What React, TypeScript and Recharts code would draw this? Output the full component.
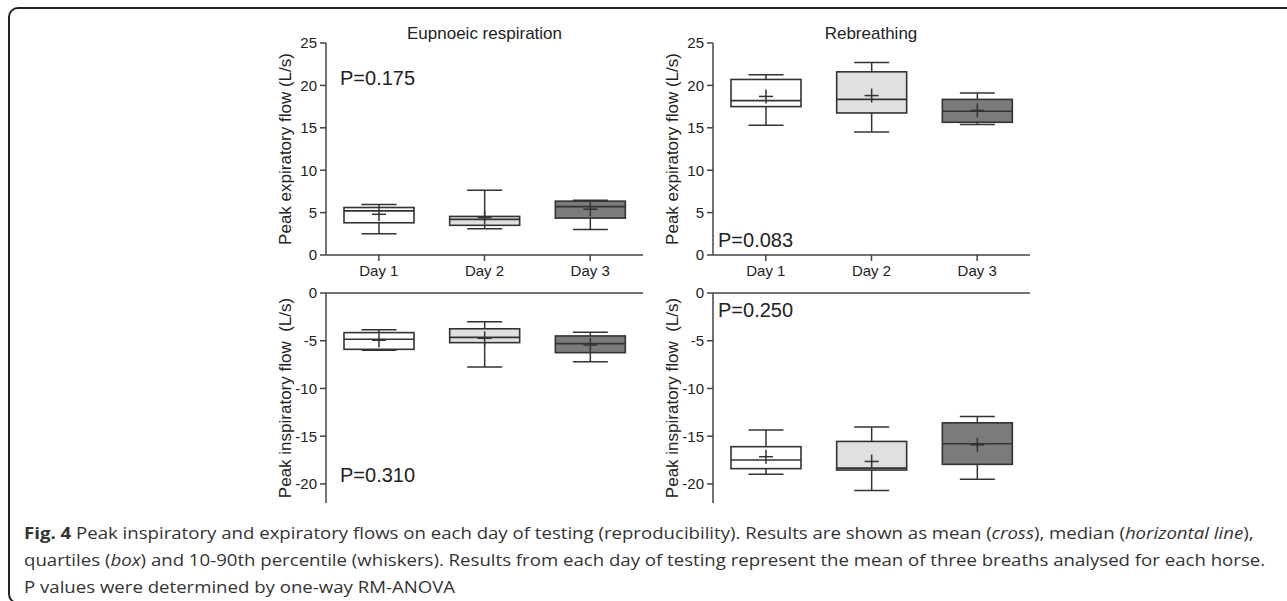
import { ComposedChart, Bar, XAxis, YAxis } from "recharts";

const days = ["Day 1", "Day 2", "Day 3"];
const boxFills = ["#ffffff", "#e0e0e0", "#7b7b7b"];

// Eupnoeic respiration, peak expiratory flow (L/s)
const eupExpP10 = [2.5, 3.1, 3.0];
const eupExpQ1 = [3.8, 3.5, 4.35];
const eupExpMedian = [5.2, 4.2, 5.7];
const eupExpQ3 = [5.6, 4.55, 6.35];
const eupExpP90 = [5.95, 7.65, 6.45];
const eupExpMean = [4.8, 4.4, 5.4];

// Rebreathing, peak expiratory flow (L/s)
const rebExpP10 = [15.3, 14.5, 15.4];
const rebExpQ1 = [17.5, 16.75, 15.65];
const rebExpMedian = [18.2, 18.35, 16.95];
const rebExpQ3 = [20.7, 21.6, 18.35];
const rebExpP90 = [21.25, 22.7, 19.1];
const rebExpMean = [18.7, 18.8, 17.05];

// Eupnoeic respiration, peak inspiratory flow (L/s)
const eupInspP10 = [-6.0, -7.75, -7.2];
const eupInspQ1 = [-5.9, -5.2, -6.25];
const eupInspMedian = [-4.85, -4.65, -5.3];
const eupInspQ3 = [-4.15, -3.75, -4.5];
const eupInspP90 = [-3.85, -3.0, -4.1];
const eupInspMean = [-4.95, -4.75, -5.45];

// Rebreathing, peak inspiratory flow (L/s)
const rebInspP10 = [-19.0, -20.7, -19.5];
const rebInspQ1 = [-18.4, -18.55, -17.95];
const rebInspMedian = [-17.5, -18.35, -15.8];
const rebInspQ3 = [-16.1, -15.55, -13.6];
const rebInspP90 = [-14.35, -14.05, -12.95];
const rebInspMean = [-17.15, -17.65, -15.9];

const expTicks = [0, 5, 10, 15, 20, 25];
const inspTicks = [-20, -15, -10, -5, 0];

const AXIS = "#444";
const INK = "#333";
const TEXT = "#222";

function rows(p10: number[], q1: number[], med: number[], q3: number[], p90: number[], mean: number[]) {
  return days.map((day, i) => ({
    day,
    box: [q1[i], q3[i]],
    p10: p10[i],
    q1: q1[i],
    med: med[i],
    q3: q3[i],
    p90: p90[i],
    mean: mean[i],
    fill: boxFills[i],
  }));
}

// box, whiskers, median and mean cross; pixel positions come from the bar's own q1..q3 rectangle
function BoxShape(props: any) {
  const { x, y, width, height, payload } = props;
  const { p10, q1, med, q3, p90, mean, fill } = payload;
  const k = height / (q3 - q1);
  const py = (v: number) => y + (q3 - v) * k;
  const cx = x + width / 2;
  const cap = 17.5;
  return (
    <g>
      <line x1={cx} x2={cx} y1={py(p90)} y2={py(p10)} stroke={INK} strokeWidth={1.5} />
      <line x1={cx - cap} x2={cx + cap} y1={py(p90)} y2={py(p90)} stroke={INK} strokeWidth={1.5} />
      <line x1={cx - cap} x2={cx + cap} y1={py(p10)} y2={py(p10)} stroke={INK} strokeWidth={1.5} />
      <rect x={x} y={y} width={width} height={height} fill={fill} stroke={INK} strokeWidth={1.6} />
      <line x1={x} x2={x + width} y1={py(med)} y2={py(med)} stroke={INK} strokeWidth={1.6} />
      <line x1={cx - 7} x2={cx + 7} y1={py(mean)} y2={py(mean)} stroke={INK} strokeWidth={1.5} />
      <line x1={cx} x2={cx} y1={py(mean) - 7} y2={py(mean) + 7} stroke={INK} strokeWidth={1.5} />
    </g>
  );
}

interface PanelProps {
  left: number;
  top: number;
  data: any[];
  expiratory: boolean;
}

function Panel({ left, top, data, expiratory }: PanelProps) {
  const height = expiratory ? 285 : 221;
  return (
    <div style={{ position: "absolute", left, top }}>
      <ComposedChart
        width={387}
        height={height}
        data={data}
        margin={{ top: expiratory ? 43 : 0, right: 0, bottom: 0, left: 0 }}
      >
        {expiratory ? (
          <XAxis
            dataKey="day"
            height={30}
            tickSize={6}
            tickMargin={4}
            axisLine={{ stroke: AXIS, strokeWidth: 1.5 }}
            tickLine={{ stroke: AXIS, strokeWidth: 1.5 }}
            tick={{ fontSize: 15, fill: TEXT }}
          />
        ) : (
          <XAxis
            dataKey="day"
            orientation="top"
            height={11}
            tickSize={6}
            tick={false}
            axisLine={{ stroke: AXIS, strokeWidth: 1.5 }}
            tickLine={{ stroke: AXIS, strokeWidth: 1.5 }}
          />
        )}
        <YAxis
          type="number"
          width={70}
          domain={expiratory ? [0, 25] : [-22, 0]}
          ticks={expiratory ? expTicks : inspTicks}
          tickSize={6}
          tickMargin={3}
          axisLine={{ stroke: AXIS, strokeWidth: 1.5 }}
          tickLine={{ stroke: AXIS, strokeWidth: 1.5 }}
          tick={{ fontSize: 15, fill: TEXT }}
          label={{
            value: expiratory ? "Peak expiratory flow (L/s)" : "Peak inspiratory flow\u00A0 (L/s)",
            angle: -90,
            position: "insideLeft",
            offset: 29,
            style: { textAnchor: "middle", fontSize: 17, fill: TEXT },
          }}
        />
        <Bar dataKey="box" barSize={70} isAnimationActive={false} shape={(p: any) => <BoxShape {...p} />} />
      </ComposedChart>
    </div>
  );
}

const pStyle: any = { position: "absolute", fontSize: 20, lineHeight: "20px", color: TEXT, whiteSpace: "nowrap" };
const titleStyle: any = { position: "absolute", fontSize: 17, lineHeight: "20px", color: TEXT, whiteSpace: "nowrap", transform: "translateX(-50%)" };

export default function App() {
  return (
    <div
      style={{
        position: "absolute",
        left: 0,
        top: 0,
        width: 1287,
        height: 601,
        overflow: "hidden",
        background: "#fff",
        fontFamily: "'Liberation Sans', Arial, sans-serif",
      }}
    >
      <div
        style={{
          position: "absolute",
          left: 8,
          top: 7,
          width: 1400,
          height: 597,
          border: "2px solid #222",
          borderRadius: 10,
          boxSizing: "border-box",
        }}
      />
      <Panel left={256} top={0} expiratory data={rows(eupExpP10, eupExpQ1, eupExpMedian, eupExpQ3, eupExpP90, eupExpMean)} />
      <Panel left={643} top={0} expiratory data={rows(rebExpP10, rebExpQ1, rebExpMedian, rebExpQ3, rebExpP90, rebExpMean)} />
      <Panel left={256} top={282} expiratory={false} data={rows(eupInspP10, eupInspQ1, eupInspMedian, eupInspQ3, eupInspP90, eupInspMean)} />
      <Panel left={643} top={282} expiratory={false} data={rows(rebInspP10, rebInspQ1, rebInspMedian, rebInspQ3, rebInspP90, rebInspMean)} />

      <div style={{ ...titleStyle, left: 484.5, top: 24 }}>Eupnoeic respiration</div>
      <div style={{ ...titleStyle, left: 871, top: 24 }}>Rebreathing</div>

      <div style={{ ...pStyle, left: 340, top: 68 }}>P=0.175</div>
      <div style={{ ...pStyle, left: 718, top: 230 }}>P=0.083</div>
      <div style={{ ...pStyle, left: 340, top: 465 }}>P=0.310</div>
      <div style={{ ...pStyle, left: 718, top: 300 }}>P=0.250</div>

      <div
        style={{
          position: "absolute",
          left: 24,
          top: 520,
          fontFamily: "'Open Sans', sans-serif",
          fontSize: 16,
          lineHeight: "27px",
          color: "#333",
          whiteSpace: "nowrap",
          transform: "scaleX(1.163)",
          transformOrigin: "left top",
        }}
      >
        <b>Fig. 4</b> Peak inspiratory and expiratory flows on each day of testing (reproducibility). Results are shown as mean (<i>cross</i>), median (<i>horizontal line</i>),
        <br />
        quartiles (<i>box</i>) and 10-90th percentile (whiskers). Results from each day of testing represent the mean of three breaths analysed for each horse.
        <br />
        P values were determined by one-way RM-ANOVA
      </div>
    </div>
  );
}
